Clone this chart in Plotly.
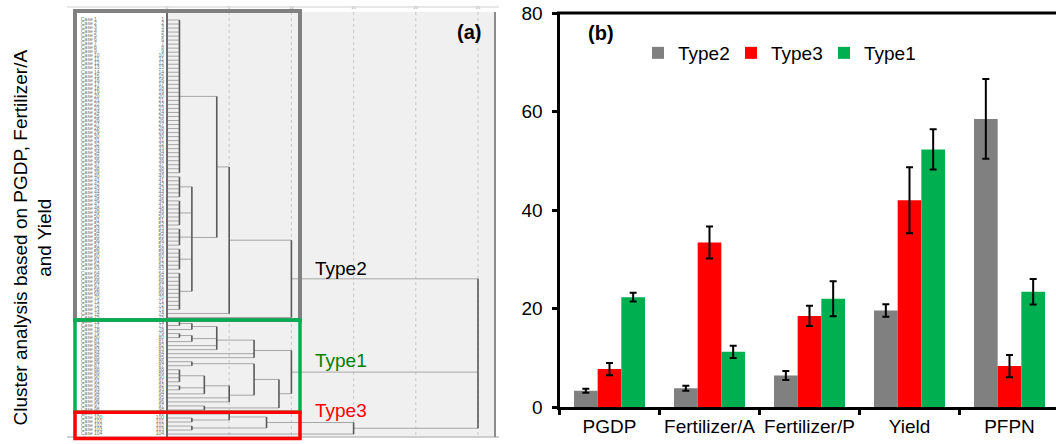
import plotly.graph_objects as go

# ---------------- panel (b): bar chart data ----------------
categories = ["PGDP", "Fertilizer/A", "Fertilizer/P", "Yield", "PFPN"]
type2_mean = [3.3, 3.8, 6.4, 19.6, 58.5]
type2_err = [0.4, 0.5, 0.9, 1.25, 8.1]
type3_mean = [7.7, 33.4, 18.5, 42.0, 8.3]
type3_err = [1.25, 3.25, 2.05, 6.7, 2.25]
type1_mean = [22.3, 11.2, 22.0, 52.3, 23.4]
type1_err = [0.9, 1.25, 3.55, 4.1, 2.6]
y_ticks = [0, 20, 40, 60, 80]

# ---------------- panel (a): dendrogram data ----------------
# node = [merge height, child, child, ...]; an int child k means k single leaves
TYPE2_TREE = [10, [5, [4, [1, 39], [2, [1, 6], [1, 7], [1, 5], [1, 6], [1, 10]]], 1], 1]
TYPE1_TREE = [10,
              [7, [4, [2, [1, 2], 1], [2, [1, 2], 1], 2], 2],
              [9, [7, [2, 2], [5, [3, [1, 4], [1, 2], 1], 2]], [3, 2]]]
TYPE3_TREE = [15, [8, [5, 1, [2, 2]], [2, 2]], 1]
ROOT_HEIGHT = 25
cluster_trees = [TYPE2_TREE, TYPE1_TREE, TYPE3_TREE]
cluster_names = ["Type2", "Type1", "Type3"]
cluster_colors = ["#808080", "#00B050", "#FF0000"]
cluster_text_colors = ["#000000", "#008000", "#FF0000"]
distance_ticks = [0, 5, 10, 15, 20, 25]

FONT = "Liberation Sans, Arial, sans-serif"
W, H = 1056, 444


def fx(px):
    return px / W


def fy(px):
    return 1 - px / H


# dendrogram pixel geometry
V0, VS = 167, 12.44   # px of distance 0, px per distance unit
R0, RS = 20, 4.02     # px of first leaf row, px per row


def v2px(v):
    return V0 + VS * v


def px2v(px):
    return (px - V0) / VS


def r2px(r):
    return R0 + RS * r


def px2r(px):
    return (px - R0) / RS


# ---- compute dendrogram segments ----
hx, hy, vx, vy = [], [], [], []
row = [0]


def layout(node):
    h = node[0]
    ys = []
    for c in node[1:]:
        if isinstance(c, int):
            for _ in range(c):
                y = row[0]
                row[0] += 1
                hx.extend([0, h, None])
                hy.extend([y, y, None])
                ys.append(y)
        else:
            ch, cy = layout(c)
            hx.extend([ch, h, None])
            hy.extend([cy, cy, None])
            ys.append(cy)
    vx.extend([h, h, None])
    vy.extend([min(ys), max(ys), None])
    return h, sum(ys) / len(ys)


cluster_rows = []
cluster_mid = []
for tree in cluster_trees:
    start = row[0]
    h, y = layout(tree)
    cluster_rows.append((start, row[0] - 1))
    cluster_mid.append(y)
    hx.extend([h, ROOT_HEIGHT, None])
    hy.extend([y, y, None])
vx.extend([ROOT_HEIGHT, ROOT_HEIGHT, None])
vy.extend([min(cluster_mid), max(cluster_mid), None])
n_leaves = row[0]
leaf_numbers = [str(i + 1) for i in range(n_leaves)]
leaf_names = ["Case " + str(i + 1) for i in range(n_leaves)]

fig = go.Figure()

# ---------------- bars ----------------
for name, m, e, col in [("Type2", type2_mean, type2_err, "#808080"),
                        ("Type3", type3_mean, type3_err, "#FF0000"),
                        ("Type1", type1_mean, type1_err, "#00B050")]:
    fig.add_trace(go.Bar(
        name=name, x=categories, y=m, marker=dict(color=col, line=dict(width=0)),
        error_y=dict(type="data", array=e, color="black", thickness=2, width=3.5),
        xaxis="x", yaxis="y"))

# ---------------- dendrogram traces ----------------
top_px, bot_px = 12, 437
grid_x, grid_y = [], []
for t in distance_ticks[1:]:
    grid_x.extend([t, t, None])
    grid_y.extend([px2r(top_px), px2r(bot_px), None])
fig.add_trace(go.Scatter(x=grid_x, y=grid_y, mode="lines",
                         line=dict(color="#c8c8c8", width=1, dash="dot"),
                         hoverinfo="skip", showlegend=False, xaxis="x2", yaxis="y2"))
fig.add_trace(go.Scatter(x=hx, y=hy, mode="lines", line=dict(color="#a6a6a6", width=1),
                         hoverinfo="skip", showlegend=False, xaxis="x2", yaxis="y2"))
fig.add_trace(go.Scatter(x=vx, y=vy, mode="lines", line=dict(color="#5a5a5a", width=1.6),
                         hoverinfo="skip", showlegend=False, xaxis="x2", yaxis="y2"))
# leaf labels (tiny)
fig.add_trace(go.Scatter(x=[px2v(81)] * n_leaves, y=list(range(n_leaves)), mode="text",
                         text=leaf_names, textposition="middle right",
                         textfont=dict(size=5, color="#707070", family=FONT),
                         hoverinfo="skip", showlegend=False, xaxis="x2", yaxis="y2"))
fig.add_trace(go.Scatter(x=[px2v(164)] * n_leaves, y=list(range(n_leaves)), mode="text",
                         text=leaf_numbers, textposition="middle left",
                         textfont=dict(size=5, color="#707070", family=FONT),
                         hoverinfo="skip", showlegend=False, xaxis="x2", yaxis="y2"))
# tiny distance tick labels at the top
fig.add_trace(go.Scatter(x=distance_ticks, y=[px2r(8)] * len(distance_ticks), mode="text",
                         text=[str(t) for t in distance_ticks], textposition="middle center",
                         textfont=dict(size=4, color="#9a9a9a", family=FONT),
                         hoverinfo="skip", showlegend=False, xaxis="x2", yaxis="y2"))

shapes = []
# dendrogram panel background and frame
shapes.append(dict(type="rect", xref="paper", yref="paper", layer="below",
                   x0=fx(v2px(0)), x1=fx(495), y0=fy(top_px), y1=fy(bot_px),
                   fillcolor="#f0f0f0", line=dict(width=0)))
shapes.append(dict(type="line", xref="paper", yref="paper", x0=fx(67), x1=fx(499),
                   y0=fy(7), y1=fy(7), line=dict(color="#d0d0d0", width=1)))
shapes.append(dict(type="line", xref="paper", yref="paper", x0=fx(67), x1=fx(499),
                   y0=fy(bot_px), y1=fy(bot_px), line=dict(color="#c0c0c0", width=1.5)))
shapes.append(dict(type="line", xref="paper", yref="paper", x0=fx(495), x1=fx(495),
                   y0=fy(top_px), y1=fy(bot_px), line=dict(color="#8c8c8c", width=2)))
shapes.append(dict(type="line", xref="paper", yref="paper", x0=fx(v2px(0)), x1=fx(v2px(0)),
                   y0=fy(top_px), y1=fy(bot_px), line=dict(color="#6a6a6a", width=2)))
# cluster boxes
bounds = [11]
for i in range(len(cluster_rows) - 1):
    bounds.append(r2px(cluster_rows[i][1] + 0.6))
bounds.append(r2px(cluster_rows[-1][1]) + 4.5)
box_w = [4, 3.5, 3.5]
for i, col in enumerate(cluster_colors):
    shapes.append(dict(type="rect", xref="paper", yref="paper", layer="above",
                       x0=fx(75), x1=fx(300), y0=fy(bounds[i]), y1=fy(bounds[i + 1]),
                       line=dict(color=col, width=box_w[i]), fillcolor="rgba(0,0,0,0)"))
# bar chart top border
shapes.append(dict(type="line", xref="paper", yref="paper", x0=fx(557), x1=fx(1056),
                   y0=fy(13), y1=fy(13), line=dict(color="black", width=3)))

annotations = [
    dict(text="Cluster analysis based on PGDP, Fertilizer/A<br>and Yield", textangle=-90,
         xref="paper", yref="paper", x=fx(32.5), y=fy(238), xanchor="center", yanchor="middle",
         align="center", showarrow=False, font=dict(size=19, color="black", family=FONT)),
    dict(text="<b>(a)</b>", xref="paper", yref="paper", x=fx(469), y=fy(32),
         xanchor="center", yanchor="middle", showarrow=False,
         font=dict(size=20, color="black", family=FONT)),
    dict(text="<b>(b)</b>", xref="paper", yref="paper", x=fx(601), y=fy(33),
         xanchor="center", yanchor="middle", showarrow=False,
         font=dict(size=20, color="black", family=FONT)),
]
label_y = [268, 360, 410]
for name, col, yy in zip(cluster_names, cluster_text_colors, label_y):
    annotations.append(dict(text=name, xref="paper", yref="paper", x=fx(313), y=fy(yy),
                            xanchor="left", yanchor="middle", showarrow=False,
                            font=dict(size=19, color=col, family=FONT)))

fig.update_layout(
    width=W, height=H, autosize=False,
    margin=dict(l=0, r=0, t=0, b=0, pad=0, autoexpand=False),
    paper_bgcolor="white", plot_bgcolor="rgba(0,0,0,0)",
    font=dict(family=FONT, size=19, color="black"),
    barmode="group", bargap=0.29, bargroupgap=0,
    showlegend=True,
    legend=dict(orientation="h", x=fx(638), y=fy(53), xanchor="left", yanchor="middle",
                bgcolor="rgba(0,0,0,0)", borderwidth=0, font=dict(size=19, family=FONT),
                entrywidth=48, entrywidthmode="pixels", traceorder="normal"),
    xaxis=dict(domain=[fx(559.5), 1.0], range=[-0.5, -0.5 + (W - 559.5) / 100.0],
               showline=True, linecolor="black", linewidth=3, ticks="outside",
               tickson="boundaries", ticklen=5, tickwidth=3, tickcolor="black",
               showgrid=False, zeroline=False, anchor="y", tickangle=0, automargin=False,
               tickfont=dict(size=19, color="black", family=FONT)),
    yaxis=dict(domain=[fy(407), fy(13)], range=[0, 80], tickvals=y_ticks,
               showline=True, linecolor="black", linewidth=3, ticks="outside",
               ticklen=5, tickwidth=3, tickcolor="black", showgrid=False, zeroline=False,
               anchor="x", automargin=False, ticklabelstandoff=5,
               tickfont=dict(size=19, color="black", family=FONT)),
    xaxis2=dict(domain=[fx(67), fx(499)], range=[px2v(67), px2v(499)], visible=False,
                anchor="y2", fixedrange=True),
    yaxis2=dict(domain=[0, 1], range=[px2r(H), px2r(0)], visible=False,
                anchor="x2", fixedrange=True),
    shapes=shapes, annotations=annotations,
)

fig.write_html("out.html")
